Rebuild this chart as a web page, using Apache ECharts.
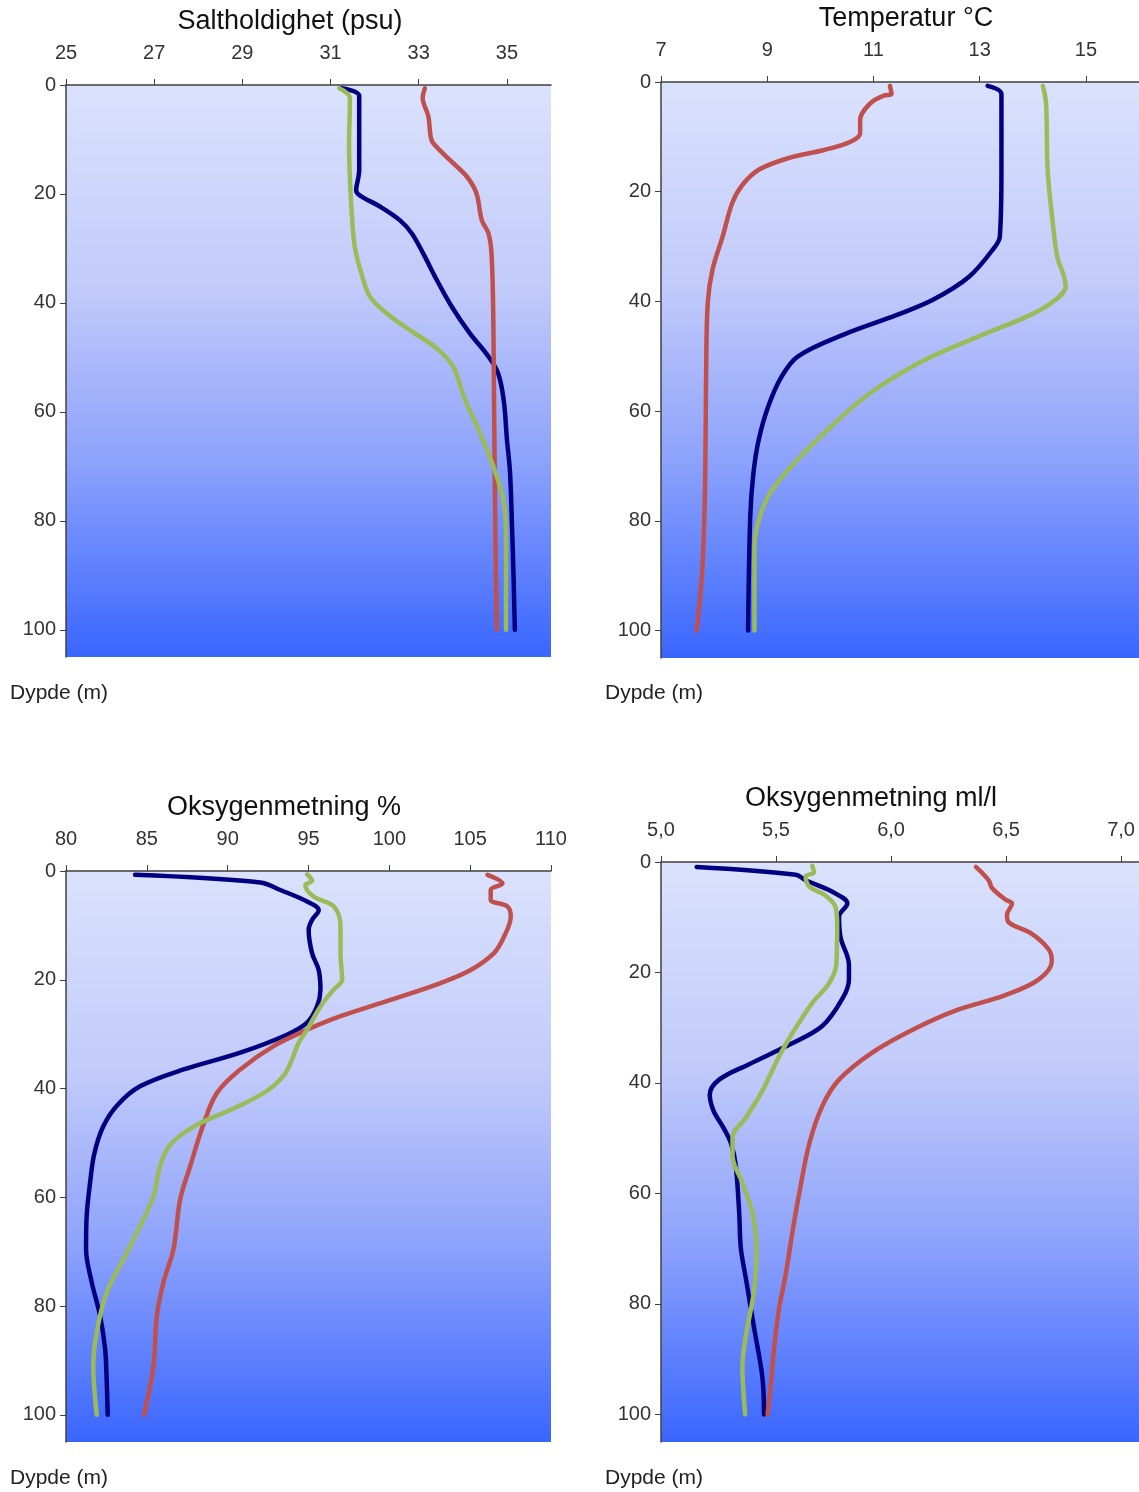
<!DOCTYPE html>
<html><head><meta charset="utf-8">
<script src="https://cdn.jsdelivr.net/npm/echarts@6/dist/echarts.min.js"></script>
<style>html,body{margin:0;padding:0;background:#fff}#c{width:1139px;height:1492px}</style>
</head><body><div id="c"></div>
<script>
// ---------- titles & labels ----------
const panelTitles = ['Saltholdighet (psu)', 'Temperatur °C', 'Oksygenmetning %', 'Oksygenmetning ml/l'];
const depthLabel = 'Dypde (m)';
const seriesNames = ['Stasjon A', 'Stasjon B', 'Stasjon C']; // blue, red, green

// ---------- tick labels ----------
const depthTicks = [0, 20, 40, 60, 80, 100];
const salTicks = [25, 27, 29, 31, 33, 35];
const tmpTicks = [7, 9, 11, 13, 15];
const oxPctTicks = [80, 85, 90, 95, 100, 105, 110];
const oxMlTicks = [5.0, 5.5, 6.0, 6.5, 7.0];

// ---------- Saltholdighet ----------
const salBlueDepth = [0.6, 2, 8, 15.6, 17, 19.3, 20.3, 22.3, 24.8, 27.2, 30.9, 35.8, 40.7, 45.6, 49.5, 52.9, 58, 65, 71, 82, 90, 100];
const salBlue      = [31.25, 31.65, 31.65, 31.65, 31.63, 31.58, 31.67, 32.12, 32.57, 32.84, 33.10, 33.41, 33.75, 34.16, 34.55, 34.80, 34.93, 35.00, 35.07, 35.12, 35.15, 35.18];
const salRedDepth  = [0.6, 2.4, 5.8, 9.5, 10.7, 13.8, 16.8, 19.9, 24.8, 27.2, 30.9, 42, 60, 76, 90, 100];
const salRed       = [33.14, 33.09, 33.22, 33.27, 33.33, 33.71, 34.09, 34.31, 34.43, 34.58, 34.65, 34.69, 34.71, 34.73, 34.75, 34.77];
const salGreenDepth = [0.6, 2.4, 11, 23.5, 29.7, 34.6, 38.8, 41.9, 45, 48.3, 51.7, 57.8, 63.9, 70, 76.1, 82.3, 90, 100];
const salGreen      = [31.20, 31.44, 31.42, 31.48, 31.55, 31.70, 31.89, 32.27, 32.80, 33.40, 33.78, 34.05, 34.39, 34.69, 34.92, 34.98, 34.98, 34.98];

// ---------- Temperatur ----------
const tmpBlueDepth = [0.7, 2.2, 16, 28.2, 30, 35.5, 39.7, 42.5, 46, 50, 53.7, 59.1, 65.2, 71.3, 79.2, 100];
const tmpBlue      = [13.15, 13.41, 13.41, 13.38, 13.29, 12.80, 12.12, 11.43, 10.45, 9.58, 9.27, 9.02, 8.84, 8.74, 8.68, 8.64];
const tmpRedDepth  = [0.7, 2.2, 2.5, 3.9, 6.9, 9.3, 10.9, 12.4, 13.9, 16, 18.8, 22.1, 28.2, 34.2, 40.3, 52.5, 65, 78, 90, 100];
const tmpRed       = [11.31, 11.34, 11.19, 10.94, 10.75, 10.75, 10.57, 10.07, 9.39, 8.84, 8.53, 8.34, 8.16, 7.97, 7.88, 7.85, 7.84, 7.82, 7.77, 7.67];
const tmpGreenDepth = [0.7, 3.9, 16, 25.1, 31.8, 35.5, 37.3, 39.7, 42.4, 46.5, 51, 56.7, 62.8, 70.1, 75.5, 81, 85.2, 100];
const tmpGreen      = [14.19, 14.25, 14.28, 14.37, 14.46, 14.59, 14.62, 14.43, 13.97, 12.95, 11.90, 10.94, 10.20, 9.45, 9.02, 8.81, 8.76, 8.76];

// ---------- Oksygenmetning % ----------
const oxPctBlueDepth = [0.7, 2.1, 3.5, 5.6, 7.2, 9.0, 10.8, 15.1, 18.2, 21.8, 24.9, 27.9, 30.1, 33.4, 36.5, 39.6, 43, 47, 52, 57.3, 63.4, 69.5, 75.6, 81.8, 87.9, 94, 100];
const oxPctBlue      = [84.27, 92.02, 93.26, 94.91, 95.63, 95.22, 95.01, 95.22, 95.63, 95.74, 95.53, 94.91, 93.67, 90.78, 87.27, 84.58, 83.2, 82.3, 81.75, 81.49, 81.28, 81.24, 81.59, 82.11, 82.42, 82.52, 82.58];
const oxPctRedDepth  = [0.7, 2.3, 3.5, 5.3, 6.5, 8.4, 12.1, 15.1, 18.2, 20.6, 23.7, 26.7, 29.2, 32.2, 36.5, 40.8, 46.5, 54.3, 60.4, 69.5, 75.6, 81.8, 91, 100];
const oxPctRed       = [106.07, 107.0, 106.27, 106.27, 107.30, 107.51, 107.09, 106.47, 105.03, 103.17, 100.07, 96.98, 94.91, 92.84, 90.78, 89.34, 88.51, 87.68, 87.06, 86.65, 86.03, 85.62, 85.41, 84.83];
const oxPctGreenDepth = [0.6, 1.8, 2.6, 4.7, 6.5, 10.2, 15.1, 20, 21.8, 24.9, 29.2, 31.6, 34.5, 37.5, 40.5, 43.5, 47, 50.5, 54.3, 59.8, 65.3, 71.4, 77.5, 84.8, 91, 100];
const oxPctGreen      = [94.91, 95.22, 94.81, 95.32, 96.56, 96.98, 96.98, 97.08, 96.56, 95.74, 94.91, 94.39, 94.0, 93.5, 92.4, 90.5, 87.9, 86.4, 85.82, 85.41, 84.58, 83.55, 82.52, 81.90, 81.69, 81.90];

// ---------- Oksygenmetning ml/l ----------
const oxMlBlueDepth = [0.9, 2.3, 3.3, 5.4, 7.5, 9.9, 13.7, 18.6, 21.3, 24.8, 29.7, 33.1, 36.6, 39.4, 42.1, 45, 48, 51, 55, 63.6, 69.9, 75.4, 84.4, 93.4, 100];
const oxMlBlue      = [5.155, 5.586, 5.629, 5.745, 5.810, 5.774, 5.781, 5.817, 5.817, 5.788, 5.701, 5.557, 5.383, 5.253, 5.212, 5.228, 5.270, 5.305, 5.325, 5.340, 5.347, 5.369, 5.405, 5.441, 5.448];
const oxMlRedDepth  = [0.9, 3.3, 4.7, 6.8, 7.5, 9.6, 10.9, 13, 15.8, 17.9, 21.3, 24.1, 26.9, 30.4, 34.5, 39.4, 44.2, 51.1, 60.2, 67.1, 74.7, 80.9, 87.9, 94.8, 100];
const oxMlRed       = [6.369, 6.424, 6.439, 6.497, 6.526, 6.504, 6.511, 6.612, 6.685, 6.699, 6.641, 6.497, 6.280, 6.092, 5.918, 5.774, 5.701, 5.644, 5.600, 5.571, 5.542, 5.513, 5.492, 5.477, 5.463];
const oxMlGreenDepth = [0.7, 1.9, 2.6, 4.4, 6.1, 8.2, 11.6, 18.6, 22, 25.5, 31, 35.2, 41.4, 46.3, 49.8, 53.2, 58.1, 63.6, 70.5, 77.5, 85.8, 91.3, 100];
const oxMlGreen      = [5.658, 5.665, 5.629, 5.644, 5.716, 5.759, 5.766, 5.762, 5.730, 5.658, 5.571, 5.513, 5.441, 5.369, 5.311, 5.311, 5.354, 5.398, 5.415, 5.405, 5.369, 5.354, 5.366];

// ---------- build ----------
const colors = ['#000080', '#c0504d', '#9bbb59'];
const pair = (vals, depths) => vals.map((v, i) => [v, depths[i]]);

const panels = [
  {grid: {left: 66, top: 85, width: 485, height: 572}, xmin: 25, xmax: 36, ticks: salTicks, fmt: v => String(v),
   lines: [pair(salBlue, salBlueDepth), pair(salRed, salRedDepth), pair(salGreen, salGreenDepth)],
   title: [290, 22], dl: [10, 693]},
  {grid: {left: 661, top: 82, width: 486, height: 576}, xmin: 7, xmax: 16, ticks: tmpTicks, fmt: v => String(v),
   lines: [pair(tmpBlue, tmpBlueDepth), pair(tmpRed, tmpRedDepth), pair(tmpGreen, tmpGreenDepth)],
   title: [906, 19], dl: [605, 693]},
  {grid: {left: 66, top: 871, width: 485, height: 571}, xmin: 80, xmax: 110, ticks: oxPctTicks, fmt: v => String(v),
   lines: [pair(oxPctBlue, oxPctBlueDepth), pair(oxPctRed, oxPctRedDepth), pair(oxPctGreen, oxPctGreenDepth)],
   title: [284, 808], dl: [10, 1478]},
  {grid: {left: 661, top: 862, width: 478, height: 580}, xmin: 5, xmax: 7.078, ticks: oxMlTicks, fmt: v => v.toFixed(1).replace('.', ','),
   lines: [pair(oxMlBlue, oxMlBlueDepth), pair(oxMlRed, oxMlRedDepth), pair(oxMlGreen, oxMlGreenDepth)],
   title: [871, 799], dl: [605, 1478]}
];

const font = '"Liberation Sans", Arial, sans-serif';
const axisColor = '#404040';
const bg = new echarts.graphic.LinearGradient(0, 0, 0, 1, [
  {offset: 0, color: '#dae2fc'},
  {offset: 0.35, color: '#c2cbfa'},
  {offset: 0.65, color: '#8ea3fb'},
  {offset: 1, color: '#3a66ff'}
]);

const option = {
  backgroundColor: '#ffffff',
  animation: false,
  grid: [], xAxis: [], yAxis: [], series: [], graphic: []
};

panels.forEach((p, i) => {
  option.grid.push(Object.assign({show: true, backgroundColor: bg, borderWidth: 0}, p.grid));
  option.xAxis.push({
    gridIndex: i, type: 'value', position: 'top', min: p.xmin, max: p.xmax,
    axisLine: {show: true, onZero: false, lineStyle: {color: axisColor, width: 1.5}},
    axisTick: {show: true, customValues: p.ticks, length: 6, lineStyle: {color: axisColor}},
    axisLabel: {customValues: p.ticks, formatter: p.fmt, color: '#333', fontSize: 20, fontFamily: font, margin: 22},
    splitLine: {show: false}
  });
  option.yAxis.push({
    gridIndex: i, type: 'value', inverse: true, min: 0, max: 105,
    axisLine: {show: true, onZero: false, lineStyle: {color: axisColor, width: 1.5}},
    axisTick: {show: true, customValues: depthTicks, length: 6, lineStyle: {color: axisColor}},
    axisLabel: {customValues: depthTicks, color: '#333', fontSize: 20, fontFamily: font, margin: 10},
    splitLine: {show: false}
  });
  p.lines.forEach((d, k) => {
    option.series.push({
      name: seriesNames[k], type: 'line', xAxisIndex: i, yAxisIndex: i, data: d,
      smooth: 0.35, showSymbol: false, symbol: 'none',
      lineStyle: {color: colors[k], width: 4.5, cap: 'round', join: 'round'}
    });
  });
  option.graphic.push({
    type: 'text', x: p.title[0], y: p.title[1],
    style: {text: panelTitles[i], fill: '#111', font: '27px ' + font, textAlign: 'center', textVerticalAlign: 'middle'}
  });
  option.graphic.push({
    type: 'text', x: p.dl[0], y: p.dl[1],
    style: {text: depthLabel, fill: '#222', font: '21px ' + font, textAlign: 'left', textVerticalAlign: 'middle'}
  });
});

const chart = echarts.init(document.getElementById('c'), null, {renderer: 'canvas'});
chart.setOption(option);
</script>
</body></html>
